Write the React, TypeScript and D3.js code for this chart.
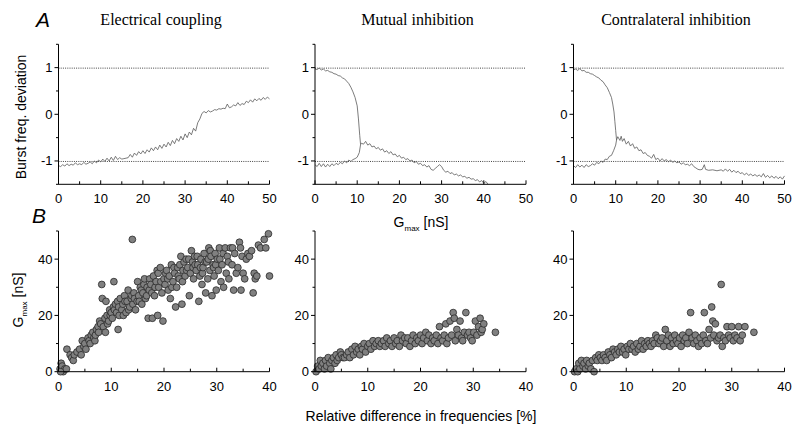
import React from "react";
import * as d3 from "d3";

type Pt = [number, number];

// ---- top row: burst frequency deviation vs Gmax ----
const elecX = d3.range(0, 50.01, 0.5);
const elecY = [
  -1.1, -1.12, -1.08, -1.11, -1.06, -1.1, -1.07, -1.09, -1.04, -1.08,
  -1.06, -1.08, -1.03, -1.07, -1.05, -1.02, -1.06, -1.0, -1.04, -0.98,
  -1.02, -0.96, -1.01, -0.94, -1.0, -0.92, -0.99, -0.9, -0.97, -0.93,
  -0.96, -0.95, -0.94, -0.93, -0.86, -0.92, -0.83, -0.88, -0.8, -0.85,
  -0.78, -0.84, -0.76, -0.81, -0.72, -0.78, -0.7, -0.76, -0.66, -0.73,
  -0.64, -0.7, -0.6, -0.67, -0.56, -0.63, -0.52, -0.58, -0.47, -0.55,
  -0.42, -0.5, -0.38, -0.44, -0.3, -0.36, -0.18, -0.1, 0.02, 0.06,
  0.03, 0.08, 0.05, 0.07, 0.1, 0.09, 0.12, 0.11, 0.13, 0.12,
  0.22, 0.14, 0.16, 0.2, 0.18, 0.25, 0.19, 0.23, 0.21, 0.28,
  0.25, 0.31, 0.26, 0.33, 0.29, 0.34, 0.3, 0.36, 0.32, 0.37,
  0.33,
];
const elecTrace: Pt[] = elecX.map((x, i) => [x, elecY[i]]);

const mutualUpper: Pt[] = [
  [0, 0.97], [0.5, 0.96], [1, 0.99], [1.5, 0.95], [2, 0.97], [2.5, 0.93], [3, 0.94],
  [3.5, 0.91], [4, 0.9], [4.5, 0.87], [5, 0.86], [5.5, 0.83], [6, 0.82], [6.5, 0.78],
  [7, 0.76], [7.5, 0.71], [8, 0.66], [8.5, 0.58], [9, 0.48], [9.5, 0.36], [10, 0.18],
  [10.3, -0.1], [10.6, -0.45], [10.8, -0.65],
];
const mutualLower: Pt[] = [
  [0, -1.08], [0.5, -1.12], [1, -1.05], [1.5, -1.12], [2, -1.06], [2.5, -1.13], [3, -1.07],
  [3.5, -1.12], [4, -1.06], [4.5, -1.1], [5, -1.05], [5.5, -1.08], [6, -1.03], [6.5, -1.06],
  [7, -1.0], [7.5, -1.04], [8, -0.98], [8.5, -1.01], [9, -0.97], [9.5, -0.95], [10, -0.92],
  [10.5, -0.82], [10.8, -0.65], [11, -0.62], [11.5, -0.64], [12, -0.58], [12.5, -0.66],
  [13, -0.63], [13.5, -0.7], [14, -0.68], [14.5, -0.74], [15, -0.71], [15.5, -0.77],
  [16, -0.74], [16.5, -0.81], [17, -0.78], [17.5, -0.84], [18, -0.8], [18.5, -0.87],
  [19, -0.85], [19.5, -0.91], [20, -0.88], [20.5, -0.94], [21, -0.92], [21.5, -0.97],
  [22, -0.95], [22.5, -1.0], [23, -0.98], [23.5, -1.04], [24, -1.01], [24.5, -1.07],
  [25, -1.05], [25.5, -1.1], [26, -1.08], [26.5, -1.13], [27, -1.1], [27.5, -1.18],
  [28, -1.2], [28.5, -1.16], [29, -1.12], [29.5, -1.08], [30, -1.12], [30.5, -1.2],
  [31, -1.24], [31.5, -1.22], [32, -1.27], [32.5, -1.25], [33, -1.3], [33.5, -1.28],
  [34, -1.32], [34.5, -1.3], [35, -1.34], [35.5, -1.33], [36, -1.37], [36.5, -1.35],
  [37, -1.39], [37.5, -1.38], [38, -1.42], [38.5, -1.4], [39, -1.45], [39.5, -1.42],
  [40, -1.48], [40.5, -1.44], [41, -1.5],
];

const contraUpper: Pt[] = [
  [0, 0.95], [0.5, 0.97], [1, 0.94], [1.5, 0.98], [2, 0.93], [2.5, 0.94], [3, 0.9],
  [3.5, 0.9], [4, 0.87], [4.5, 0.86], [5, 0.83], [5.5, 0.8], [6, 0.78], [6.5, 0.73],
  [7, 0.7], [7.5, 0.63], [8, 0.57], [8.5, 0.47], [9, 0.36], [9.3, 0.22], [9.6, 0.05],
  [9.8, -0.15], [10, -0.35], [10.2, -0.55],
];
const contraLower: Pt[] = [
  [0, -1.1], [0.5, -1.14], [1, -1.08], [1.5, -1.13], [2, -1.09], [2.5, -1.14], [3, -1.08],
  [3.5, -1.12], [4, -1.1], [4.5, -1.06], [5, -1.09], [5.5, -1.03], [6, -1.06], [6.5, -1.0],
  [7, -1.03], [7.5, -0.96], [8, -0.97], [8.5, -0.9], [9, -0.88], [9.5, -0.78], [10, -0.66],
  [10.2, -0.55], [10.5, -0.48], [11, -0.56], [11.3, -0.47], [11.6, -0.58], [12, -0.52],
  [12.5, -0.64], [13, -0.58], [13.5, -0.68], [14, -0.63], [14.5, -0.73], [15, -0.7],
  [15.5, -0.78], [16, -0.76], [16.5, -0.84], [17, -0.82], [17.5, -0.88], [18, -0.9],
  [18.5, -0.94], [19, -0.86], [19.5, -0.97], [20, -0.94], [20.5, -1.0], [21, -0.95],
  [21.5, -1.0], [22, -0.97], [22.5, -1.02], [23, -0.98], [23.5, -1.03], [24, -1.0],
  [24.5, -1.04], [25, -1.02], [25.5, -1.07], [26, -1.04], [26.5, -1.08], [27, -1.07],
  [27.5, -1.1], [28, -1.06], [28.5, -1.12], [29, -1.15], [29.5, -1.18], [30, -1.19],
  [30.5, -1.18], [31, -1.08], [31.3, -1.18], [32, -1.2], [33, -1.19], [34, -1.21],
  [35, -1.19], [35.5, -1.22], [36, -1.17], [36.5, -1.22], [37, -1.18], [37.5, -1.24],
  [38, -1.2], [38.5, -1.25], [39, -1.22], [39.5, -1.27], [40, -1.25], [40.5, -1.3],
  [41, -1.26], [41.5, -1.31], [42, -1.28], [42.5, -1.32], [43, -1.29], [43.5, -1.33],
  [44, -1.3], [44.5, -1.34], [45, -1.27], [45.5, -1.35], [46, -1.31], [46.5, -1.36],
  [47, -1.32], [47.5, -1.37], [48, -1.33], [48.5, -1.38], [49, -1.34], [49.5, -1.39],
  [50, -1.32],
];

// ---- bottom row: Gmax vs relative difference in frequencies ----
const elecScatter: Pt[] = [
  [0.3, 1], [0.5, 3], [0.7, 2], [0.9, 0], [1.2, 1], [0.4, 0], [1.5, 1], [1.6, 8], [2.2, 6],
  [2.5, 5], [2.8, 4], [3.0, 6], [3.5, 7], [4.0, 8], [4.3, 6], [4.5, 11], [4.8, 9], [5.0, 10],
  [5.2, 8], [5.6, 12], [5.8, 11], [6.0, 10], [6.2, 13], [6.5, 14], [6.7, 12], [6.9, 11],
  [7.0, 13], [7.2, 15], [7.5, 16], [7.6, 14], [7.8, 18], [8.0, 17], [8.2, 31], [8.3, 26],
  [8.5, 16], [8.8, 19], [8.9, 14], [9.0, 25], [9.2, 20], [9.3, 17], [9.5, 18], [9.7, 22],
  [9.8, 20], [10.0, 21], [10.2, 19], [10.4, 23], [10.5, 32], [10.6, 22], [10.8, 24],
  [11.0, 21], [11.2, 25], [11.3, 15], [11.4, 23], [11.5, 20], [11.7, 26], [12.0, 22],
  [12.2, 24], [12.3, 20], [12.5, 27], [12.6, 25], [12.8, 21], [13.0, 25], [13.2, 29],
  [13.3, 22], [13.5, 23], [13.8, 26], [13.9, 27], [14.0, 47], [14.1, 24], [14.3, 28],
  [14.4, 26], [14.6, 22], [14.9, 25], [15.0, 32], [15.2, 27], [15.3, 25], [15.5, 30],
  [15.7, 29], [15.8, 24], [16.0, 28], [16.2, 31], [16.3, 33], [16.5, 26], [16.7, 27],
  [16.8, 30], [17.0, 19], [17.2, 29], [17.3, 33], [17.5, 31], [17.7, 28], [17.8, 19],
  [18.0, 34], [18.2, 27], [18.3, 30], [18.5, 32], [18.7, 36], [18.8, 20], [18.9, 35],
  [19.0, 30], [19.3, 37], [19.4, 32], [19.6, 28], [19.8, 18], [20.0, 33], [20.2, 31],
  [20.3, 35], [20.5, 36], [20.7, 33], [20.8, 29], [21.0, 34], [21.2, 26], [21.4, 38],
  [21.5, 30], [21.7, 32], [21.9, 37], [22.0, 35], [22.2, 23], [22.4, 30], [22.6, 37],
  [22.7, 34], [22.9, 33], [23.0, 38], [23.2, 41], [23.4, 24], [23.5, 32], [23.6, 36],
  [23.8, 39], [24.0, 34], [24.2, 40], [24.3, 36], [24.5, 37], [24.7, 40], [24.8, 27],
  [25.0, 35], [25.2, 43], [25.4, 39], [25.5, 37], [25.6, 33], [25.8, 41], [25.9, 38],
  [26.1, 36], [26.3, 41], [26.4, 38], [26.6, 25], [26.8, 34], [26.9, 37], [27.0, 40],
  [27.2, 31], [27.3, 35], [27.4, 37], [27.6, 42], [27.8, 39], [27.9, 28], [28.1, 39],
  [28.3, 33], [28.4, 40], [28.5, 44], [28.7, 36], [28.8, 43], [28.9, 41], [29.1, 27],
  [29.3, 38], [29.4, 37], [29.5, 34], [29.7, 42], [29.8, 38], [29.9, 29], [30.1, 40],
  [30.3, 36], [30.5, 44], [30.6, 40], [30.8, 32], [31.0, 38], [31.2, 42], [31.3, 30],
  [31.6, 44], [31.8, 35], [32.0, 41], [32.2, 39], [32.3, 33], [32.6, 44], [32.9, 38],
  [33.0, 44], [33.2, 29], [33.4, 42], [33.7, 35], [34.0, 37], [34.3, 46], [34.5, 44],
  [34.6, 29], [34.8, 41], [35.0, 35], [35.3, 33], [35.6, 40], [35.9, 42], [36.2, 41],
  [36.6, 43], [36.9, 28], [37.1, 35], [37.3, 33], [37.6, 34], [37.9, 45], [38.3, 44],
  [39.0, 47], [39.3, 44], [39.8, 49], [40.0, 34],
];

const mutualScatter: Pt[] = [
  [0.2, 0], [0.5, 2], [0.8, 1], [1.0, 4], [1.2, 2], [1.5, 3], [1.8, 1], [2.0, 4], [2.2, 2],
  [2.5, 5], [2.8, 3], [3.0, 1], [3.2, 4], [3.5, 5], [3.8, 3], [4.0, 6], [4.2, 4], [4.5, 5],
  [4.8, 7], [5.0, 6], [5.3, 5], [5.6, 5], [6.0, 6], [6.3, 7], [6.6, 5], [7.0, 8], [7.3, 6],
  [7.6, 9], [7.9, 7], [8.2, 8], [8.5, 6], [8.8, 9], [9.0, 8], [9.3, 10], [9.6, 7], [10.0, 9],
  [10.3, 10], [10.6, 8], [11.0, 11], [11.3, 9], [11.6, 10], [12.0, 11], [12.3, 9], [12.6, 10],
  [13.0, 11], [13.3, 9], [13.6, 12], [14.0, 10], [14.3, 11], [14.6, 9], [15.0, 12], [15.3, 10],
  [15.6, 11], [16.0, 9], [16.3, 13], [16.6, 11], [17.0, 12], [17.3, 10], [17.6, 12], [18.0, 9],
  [18.3, 11], [18.6, 13], [19.0, 10], [19.3, 12], [19.6, 11], [20.0, 13], [20.3, 10],
  [20.6, 12], [21.0, 14], [21.3, 11], [21.6, 13], [22.0, 10], [22.3, 12], [22.6, 11],
  [23.0, 13], [23.3, 10], [23.6, 16], [23.9, 12], [24.2, 11], [24.5, 13], [24.8, 17],
  [25.0, 10], [25.3, 12], [25.6, 18], [25.9, 13], [26.2, 21], [26.4, 19], [26.6, 11],
  [26.9, 15], [27.2, 13], [27.5, 18], [27.8, 12], [28.0, 11], [28.3, 14], [28.6, 21],
  [28.9, 13], [29.2, 14], [29.5, 12], [29.8, 11], [30.1, 14], [30.4, 18], [30.7, 13],
  [31.0, 16], [31.3, 19], [31.5, 14], [31.7, 15], [32.0, 17], [34.2, 14],
];

const contraScatter: Pt[] = [
  [0.2, 0], [0.5, 1], [0.8, 0], [1.0, 3], [1.2, 1], [1.5, 4], [1.8, 2], [2.0, 3], [2.3, 1],
  [2.5, 4], [2.8, 2], [3.0, 3], [3.3, 1], [3.6, 4], [3.9, 0], [4.2, 5], [4.5, 4], [4.8, 6],
  [5.1, 5], [5.4, 4], [5.7, 6], [6.0, 5], [6.3, 4], [6.6, 7], [6.9, 6], [7.2, 5], [7.5, 8],
  [7.8, 7], [8.1, 6], [8.4, 8], [8.7, 7], [9.0, 9], [9.3, 7], [9.6, 8], [9.9, 6], [10.2, 9],
  [10.5, 8], [10.8, 10], [11.1, 8], [11.4, 9], [11.7, 7], [12.0, 10], [12.3, 8], [12.6, 9],
  [12.9, 11], [13.2, 8], [13.5, 10], [13.8, 9], [14.1, 11], [14.4, 10], [14.7, 9], [15.0, 11],
  [15.3, 10], [15.6, 13], [15.9, 12], [16.2, 10], [16.5, 11], [16.8, 12], [17.1, 9], [17.4, 15],
  [17.7, 11], [18.0, 13], [18.3, 9], [18.6, 12], [18.9, 10], [19.2, 13], [19.5, 11], [19.8, 10],
  [20.1, 12], [20.4, 9], [20.7, 13], [21.0, 11], [21.3, 12], [21.6, 10], [21.9, 14], [22.2, 21],
  [22.5, 12], [22.8, 10], [23.1, 13], [23.4, 11], [23.7, 9], [24.0, 12], [24.3, 10], [24.6, 13],
  [24.8, 21], [25.1, 11], [25.4, 10], [25.7, 15], [26.0, 12], [26.2, 23], [26.4, 18], [26.6, 13],
  [26.9, 17], [27.2, 11], [27.5, 12], [27.8, 13], [28.0, 31], [28.2, 9], [28.5, 12], [28.8, 11],
  [29.1, 16], [29.4, 13], [29.7, 12], [30.0, 16], [30.3, 11], [30.6, 13], [31.0, 12], [31.3, 16],
  [31.6, 11], [32.0, 13], [32.5, 16], [34.2, 14],
];

const titles = ["Electrical coupling", "Mutual inhibition", "Contralateral inhibition"];
const topXTicks = [0, 10, 20, 30, 40, 50];
const topYTicks = [-1, 0, 1];
const botXTicks = [0, 10, 20, 30, 40];
const botYTicks = [0, 20, 40];

const panelLeft = [58.5, 315, 573.5];
const panelW = 211;
const sans = "'Liberation Sans', Arial, sans-serif";
const serif = "'Liberation Serif', 'Times New Roman', serif";

function TopPanel({ left, traces }: { left: number; traces: Pt[][] }) {
  const x = d3.scaleLinear().domain([0, 50]).range([left, left + panelW]);
  const y = d3.scaleLinear().domain([-1.5, 1.5]).range([184.3, 44.3]);
  const line = d3.line<Pt>().x((d) => x(d[0])).y((d) => y(d[1]));
  const minorX = d3.range(5, 50, 10);
  const minorY = [-1.5, -0.5, 0.5, 1.5];
  return (
    <g>
      {[-1, 1].map((v) => (
        <line key={v} x1={x(0)} x2={x(50)} y1={y(v) + 0.5} y2={y(v) + 0.5} stroke="#444" strokeWidth={1} strokeDasharray="1,1.2" />
      ))}
      {traces.map((t, i) => (
        <path key={i} d={line(t) || ""} fill="none" stroke="#5a5a5a" strokeWidth={0.8} />
      ))}
      <line x1={x(0)} x2={x(50)} y1={y(-1.5)} y2={y(-1.5)} stroke="#000" />
      <line x1={x(0)} x2={x(0)} y1={y(-1.5)} y2={y(1.5)} stroke="#000" />
      {topXTicks.map((t) => (
        <g key={t}>
          <line x1={x(t)} x2={x(t)} y1={y(-1.5)} y2={y(-1.5) - 4} stroke="#000" />
          <text x={x(t)} y={203} textAnchor="middle" fontSize={13} fontFamily={sans}>{t}</text>
        </g>
      ))}
      {minorX.map((t) => (
        <line key={t} x1={x(t)} x2={x(t)} y1={y(-1.5)} y2={y(-1.5) - 3} stroke="#000" />
      ))}
      {topYTicks.map((t) => (
        <g key={t}>
          <line x1={x(0) - 4} x2={x(0)} y1={y(t)} y2={y(t)} stroke="#000" />
          <text x={x(0) - 6} y={y(t) + 4.5} textAnchor="end" fontSize={13} fontFamily={sans}>{t}</text>
        </g>
      ))}
      {minorY.map((t) => (
        <line key={t} x1={x(0) - 2.5} x2={x(0)} y1={y(t)} y2={y(t)} stroke="#000" />
      ))}
    </g>
  );
}

function BottomPanel({ left, points }: { left: number; points: Pt[] }) {
  const x = d3.scaleLinear().domain([0, 40]).range([left, left + panelW]);
  const y = d3.scaleLinear().domain([0, 50]).range([371.7, 231]);
  const minorX = [5, 15, 25, 35];
  const minorY = [10, 30, 50];
  return (
    <g>
      {points.map((p, i) => (
        <circle key={i} cx={x(p[0])} cy={y(p[1])} r={3.4} fill="#808080" stroke="#2a2a2a" strokeWidth={0.8} />
      ))}
      <line x1={x(0)} x2={x(40)} y1={y(0)} y2={y(0)} stroke="#000" />
      <line x1={x(0)} x2={x(0)} y1={y(0)} y2={y(50)} stroke="#000" />
      {botXTicks.map((t) => (
        <g key={t}>
          <line x1={x(t)} x2={x(t)} y1={y(0)} y2={y(0) - 4} stroke="#000" />
          <text x={x(t)} y={391} textAnchor="middle" fontSize={13} fontFamily={sans}>{t}</text>
        </g>
      ))}
      {minorX.map((t) => (
        <line key={t} x1={x(t)} x2={x(t)} y1={y(0)} y2={y(0) - 3} stroke="#000" />
      ))}
      {botYTicks.map((t) => (
        <g key={t}>
          <line x1={x(0) - 4} x2={x(0)} y1={y(t)} y2={y(t)} stroke="#000" />
          <text x={x(0) - 6} y={y(t) + 4.5} textAnchor="end" fontSize={13} fontFamily={sans}>{t}</text>
        </g>
      ))}
      {minorY.map((t) => (
        <line key={t} x1={x(0) - 2.5} x2={x(0)} y1={y(t)} y2={y(t)} stroke="#000" />
      ))}
    </g>
  );
}

export default function App() {
  const topTraces = [[elecTrace], [mutualUpper, mutualLower], [contraUpper, contraLower]];
  const scatters = [elecScatter, mutualScatter, contraScatter];
  return (
    <svg width={800} height={427} style={{ position: "absolute", left: 0, top: 0, background: "#fff" }}>
      <rect width={800} height={427} fill="#fff" />
      <text x={36} y={27} fontSize={21} fontStyle="italic" fontFamily={sans}>A</text>
      <text x={32} y={223} fontSize={21} fontStyle="italic" fontFamily={sans}>B</text>
      {titles.map((t, i) => (
        <text key={t} x={panelLeft[i] + panelW / 2 - 3} y={25} textAnchor="middle" fontSize={16} fontFamily={serif}>{t}</text>
      ))}
      {panelLeft.map((l, i) => (
        <TopPanel key={"t" + i} left={l} traces={topTraces[i]} />
      ))}
      {panelLeft.map((l, i) => (
        <BottomPanel key={"b" + i} left={l} points={scatters[i]} />
      ))}
      <text transform="translate(26,117) rotate(-90)" textAnchor="middle" fontSize={14} fontFamily={sans}>Burst freq. deviation</text>
      <text transform="translate(23,300) rotate(-90)" textAnchor="middle" fontSize={14} fontFamily={sans}>
        G<tspan fontSize={8} dy={4}>max</tspan><tspan dy={-4}> [nS]</tspan>
      </text>
      <text x={421} y={227} textAnchor="middle" fontSize={14} fontFamily={sans}>
        G<tspan fontSize={8} dy={4}>max</tspan><tspan dy={-4}> [nS]</tspan>
      </text>
      <text x={421} y={421} textAnchor="middle" fontSize={14} fontFamily={sans}>Relative difference in frequencies [%]</text>
    </svg>
  );
}
